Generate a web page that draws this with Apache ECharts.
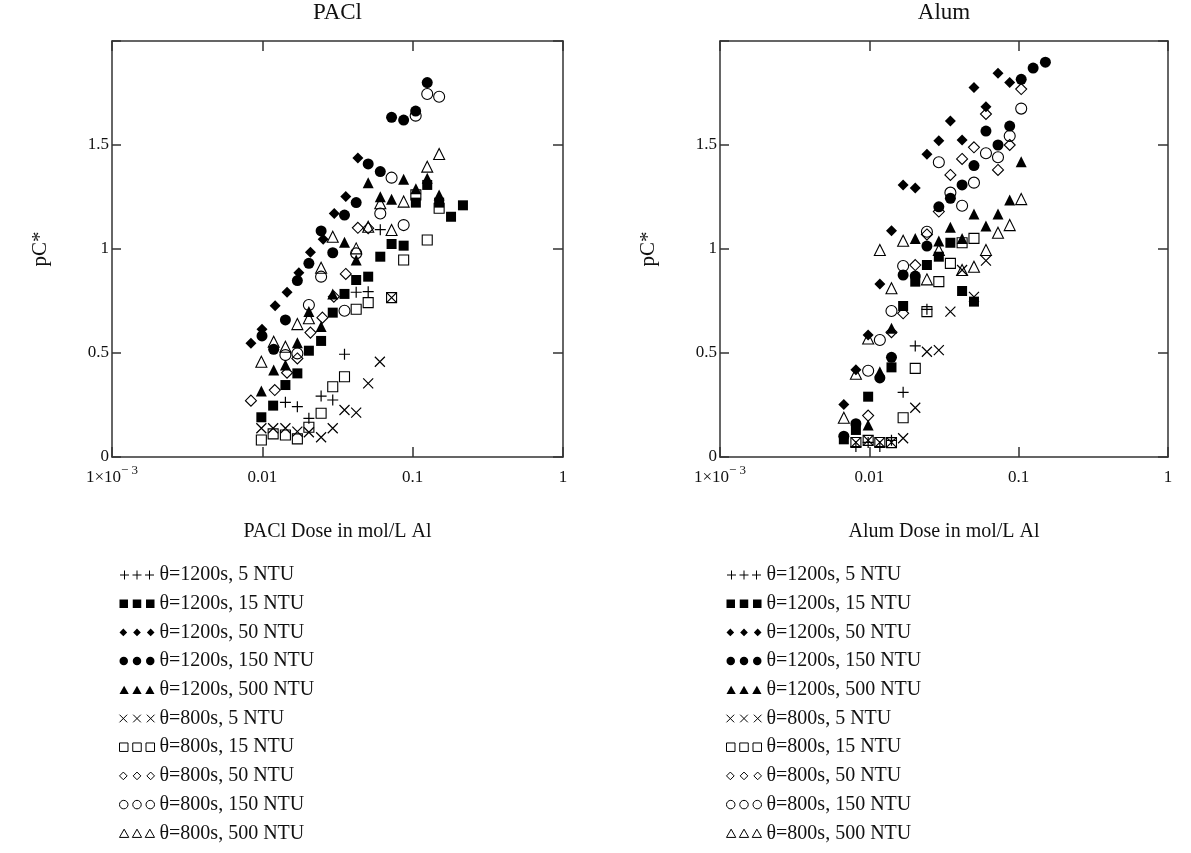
<!DOCTYPE html>
<html><head><meta charset="utf-8">
<script src="https://cdn.jsdelivr.net/npm/echarts@6/dist/echarts.min.js"></script>
<style>html,body{margin:0;padding:0;background:#fff}#c{width:1191px;height:853px}</style>
</head><body><div id="c"></div>
<script>
// ---------- data ----------
const panelTitles = ['PACl', 'Alum'];
const xAxisNames = ['PACl Dose in mol/L Al', 'Alum Dose in mol/L Al'];
const yAxisName = 'pC*';
const seriesNames = ['θ=1200s, 5 NTU','θ=1200s, 15 NTU','θ=1200s, 50 NTU','θ=1200s, 150 NTU','θ=1200s, 500 NTU',
                     'θ=800s, 5 NTU','θ=800s, 15 NTU','θ=800s, 50 NTU','θ=800s, 150 NTU','θ=800s, 500 NTU'];
const xTickExps = [-3, -2, -1, 0];
const xTickLabels = ['1×10{sup|− 3}', '0.01', '0.1', '1'];
const yTickValues = [0, 0.5, 1, 1.5, 2];
const yTickLabels = ['0', '0.5', '1', '1.5', ''];

// PACl panel
const pacl_1200_5 = [[0.01424,0.263],[0.0171,0.242],[0.0204,0.186],[0.0246,0.293],[0.0294,0.274],[0.0352,0.494],[0.0421,0.792],[0.0506,0.795],[0.0609,1.093]];
const pacl_1200_15 = [[0.00985,0.191],[0.0118,0.247],[0.01424,0.346],[0.0171,0.402],[0.0204,0.511],[0.0246,0.558],[0.0294,0.694],[0.0352,0.784],[0.0421,0.851],[0.0506,0.867],[0.0609,0.963],[0.0724,1.024],[0.0871,1.016],[0.105,1.223],[0.125,1.308],[0.150,1.223],[0.180,1.155],[0.216,1.21]];
const pacl_1200_50 = [[0.0084,0.547],[0.00995,0.614],[0.01216,0.727],[0.0146,0.792],[0.0175,0.886],[0.0209,0.984],[0.0254,1.047],[0.0301,1.171],[0.0359,1.253],[0.0432,1.438]];
const pacl_1200_150 = [[0.00995,0.582],[0.0119,0.518],[0.01424,0.659],[0.0171,0.848],[0.0204,0.931],[0.0246,1.087],[0.0294,0.982],[0.0352,1.163],[0.0421,1.223],[0.0506,1.409],[0.0609,1.372],[0.0724,1.633],[0.0871,1.62],[0.1047,1.663],[0.125,1.80]];
const pacl_1200_500 = [[0.00985,0.317],[0.0119,0.418],[0.01424,0.442],[0.0171,0.549],[0.0204,0.699],[0.0246,0.627],[0.0294,0.784],[0.0352,1.032],[0.0421,0.947],[0.0506,1.319],[0.0609,1.251],[0.0724,1.239],[0.0871,1.335],[0.105,1.29],[0.125,1.34],[0.150,1.26]];
const pacl_800_5 = [[0.00985,0.138],[0.0118,0.138],[0.01424,0.138],[0.0171,0.122],[0.0204,0.119],[0.0246,0.095],[0.0294,0.138],[0.0352,0.226],[0.0421,0.213],[0.0506,0.354],[0.0605,0.458],[0.0724,0.766]];
const pacl_800_15 = [[0.00985,0.082],[0.0118,0.111],[0.01424,0.106],[0.0171,0.087],[0.0204,0.143],[0.0246,0.210],[0.0294,0.338],[0.0352,0.386],[0.0421,0.710],[0.0506,0.742],[0.0724,0.766],[0.0871,0.947],[0.105,1.26],[0.125,1.043],[0.150,1.196]];
const pacl_800_50 = [[0.0084,0.271],[0.0121,0.322],[0.0146,0.405],[0.0171,0.474],[0.0209,0.598],[0.0251,0.670],[0.0299,0.771],[0.0359,0.880],[0.0432,1.102],[0.0506,1.10]];
const pacl_800_150 = [[0.01424,0.49],[0.0171,0.498],[0.0204,0.731],[0.0246,0.867],[0.0352,0.703],[0.0421,0.979],[0.0609,1.171],[0.0724,1.343],[0.0871,1.115],[0.1047,1.641],[0.125,1.745],[0.150,1.732]];
const pacl_800_500 = [[0.00985,0.458],[0.0119,0.554],[0.01424,0.53],[0.0171,0.639],[0.0204,0.667],[0.0246,0.910],[0.0294,1.059],[0.0421,1.003],[0.0506,1.107],[0.0609,1.22],[0.0724,1.091],[0.0871,1.228],[0.125,1.396],[0.150,1.457]];

// Alum panel
const alum_1200_5 = [[0.00813,0.05],[0.00982,0.07],[0.01176,0.05],[0.01407,0.08],[0.01684,0.311],[0.0203,0.534],[0.0243,0.71]];
const alum_1200_15 = [[0.00675,0.085],[0.00813,0.13],[0.00982,0.29],[0.01407,0.431],[0.01684,0.726],[0.0203,0.843],[0.0243,0.923],[0.0292,0.963],[0.0349,1.03],[0.0418,0.798],[0.0502,0.747]];
const alum_1200_50 = [[0.00675,0.253],[0.00813,0.42],[0.00982,0.587],[0.01176,0.832],[0.01407,1.088],[0.01684,1.308],[0.0203,1.293],[0.0243,1.455],[0.0292,1.521],[0.0349,1.615],[0.0418,1.524],[0.0502,1.777],[0.0604,1.684],[0.0727,1.845],[0.0871,1.801]];
const alum_1200_150 = [[0.00675,0.10],[0.00813,0.16],[0.01176,0.38],[0.01407,0.479],[0.01684,0.875],[0.0203,0.87],[0.0243,1.014],[0.0292,1.203],[0.0349,1.244],[0.0418,1.308],[0.0502,1.401],[0.0604,1.567],[0.0727,1.5],[0.0871,1.591],[0.104,1.816],[0.125,1.870],[0.151,1.898]];
const alum_1200_500 = [[0.00982,0.154],[0.01176,0.41],[0.01407,0.619],[0.0203,1.051],[0.0292,1.038],[0.0349,1.104],[0.0418,1.051],[0.0502,1.168],[0.0604,1.111],[0.0727,1.168],[0.0871,1.236],[0.104,1.42]];
const alum_800_5 = [[0.00813,0.07],[0.00982,0.08],[0.01176,0.07],[0.01407,0.07],[0.01684,0.09],[0.0203,0.237],[0.0243,0.506],[0.0292,0.514],[0.0349,0.699],[0.0418,0.899],[0.0502,0.77],[0.0604,0.944]];
const alum_800_15 = [[0.00813,0.07],[0.00982,0.08],[0.01176,0.07],[0.01407,0.069],[0.01684,0.189],[0.0203,0.426],[0.0243,0.699],[0.0292,0.843],[0.0349,0.931],[0.0418,1.03],[0.0502,1.051]];
const alum_800_50 = [[0.00982,0.199],[0.01407,0.60],[0.01684,0.691],[0.0203,0.923],[0.0243,1.07],[0.0292,1.18],[0.0349,1.356],[0.0418,1.433],[0.0502,1.489],[0.0604,1.649],[0.0727,1.38],[0.0871,1.5],[0.104,1.769]];
const alum_800_150 = [[0.00982,0.415],[0.01176,0.5625],[0.01407,0.702],[0.01684,0.918],[0.0243,1.083],[0.0292,1.417],[0.0349,1.271],[0.0418,1.208],[0.0502,1.319],[0.0604,1.46],[0.0727,1.441],[0.0871,1.543],[0.104,1.675]];
const alum_800_500 = [[0.00675,0.189],[0.00813,0.40],[0.00982,0.57],[0.01176,0.995],[0.01407,0.811],[0.01684,1.04],[0.0243,0.854],[0.0292,0.995],[0.0418,0.899],[0.0502,0.915],[0.0604,0.995],[0.0727,1.078],[0.0871,1.115],[0.104,1.240]];

const paclData = [pacl_1200_5, pacl_1200_15, pacl_1200_50, pacl_1200_150, pacl_1200_500,
                  pacl_800_5, pacl_800_15, pacl_800_50, pacl_800_150, pacl_800_500];
const alumData = [alum_1200_5, alum_1200_15, alum_1200_50, alum_1200_150, alum_1200_500,
                  alum_800_5, alum_800_15, alum_800_50, alum_800_150, alum_800_500];

// ---------- styles ----------
const FONT = 'Liberation Serif';
const INK = '#111';
const AX = '#333';
const T = 'rgba(0,0,0,0)';
const IC_PLUS = 'path://M4.5,0V9M0,4.5H9M17,0V9M12.5,4.5H21.5M29.5,0V9M25,4.5H34';
const IC_SQ = 'path://M0.5,0.5h8v8h-8zM13,0.5h8v8h-8zM25.5,0.5h8v8h-8z';
const IC_DIA = 'path://M4.5,1L8,4.5L4.5,8L1,4.5ZM17,1L20.5,4.5L17,8L13.5,4.5ZM29.5,1L33,4.5L29.5,8L26,4.5Z';
const IC_CIR = 'path://M0.5,4.5A4,4,0,1,0,8.5,4.5A4,4,0,1,0,0.5,4.5ZM13,4.5A4,4,0,1,0,21,4.5A4,4,0,1,0,13,4.5ZM25.5,4.5A4,4,0,1,0,33.5,4.5A4,4,0,1,0,25.5,4.5Z';
const IC_TRI = 'path://M4.5,0.5L9,8.5L0,8.5ZM17,0.5L21.5,8.5L12.5,8.5ZM29.5,0.5L34,8.5L25,8.5Z';
const IC_X = 'path://M1,1L8,8M8,1L1,8M13.5,1L20.5,8M20.5,1L13.5,8M26,1L33,8M33,1L26,8';
const markerStyles = [
  {symbol:'path://M5,0V10M0,5H10', size:11, fill:T, stroke:'#000', bw:1.2, icon:IC_PLUS},
  {symbol:'rect', size:10, fill:'#000', stroke:'#000', bw:0, icon:IC_SQ},
  {symbol:'diamond', size:11, fill:'#000', stroke:'#000', bw:0, icon:IC_DIA},
  {symbol:'circle', size:11, fill:'#000', stroke:'#000', bw:0, icon:IC_CIR},
  {symbol:'triangle', size:11, fill:'#000', stroke:'#000', bw:0, icon:IC_TRI},
  {symbol:'path://M0,0L10,10M10,0L0,10', size:10, fill:T, stroke:'#000', bw:1.2, icon:IC_X},
  {symbol:'rect', size:10, fill:T, stroke:'#000', bw:1.1, icon:IC_SQ},
  {symbol:'diamond', size:11, fill:T, stroke:'#000', bw:1.1, icon:IC_DIA},
  {symbol:'circle', size:11, fill:T, stroke:'#000', bw:1.1, icon:IC_CIR},
  {symbol:'triangle', size:11, fill:T, stroke:'#000', bw:1.1, icon:IC_TRI}
];

const grids = [
  {left:112, top:41, width:451, height:416},
  {left:720, top:41, width:448, height:416}
];

function xLabel(v){
  const e = Math.round(Math.log10(v));
  const i = xTickExps.indexOf(e);
  return i >= 0 ? xTickLabels[i] : '';
}
function yLabel(v){
  const i = yTickValues.findIndex(t => Math.abs(t - v) < 1e-9);
  return i >= 0 ? yTickLabels[i] : '';
}

const xAxes = [], yAxes = [], series = [];
[0,1].forEach(p => {
  xAxes.push({
    type:'log', logBase:10, min:0.001, max:1, gridIndex:p, position:'bottom',
    name:xAxisNames[p], nameLocation:'middle', nameGap:65,
    nameTextStyle:{fontSize:20, fontFamily:FONT, color:INK},
    axisLine:{show:true, onZero:false, lineStyle:{color:AX, width:1.5}},
    axisTick:{show:true, inside:true, length:10, lineStyle:{color:AX, width:1.5}},
    minorTick:{show:false}, splitLine:{show:false},
    axisLabel:{show:true, margin:7, fontSize:17, fontFamily:FONT, color:INK, lineHeight:27,
      formatter:xLabel,
      rich:{sup:{fontSize:13, fontFamily:FONT, color:INK, lineHeight:13, padding:[0,0,14,0]}}}
  });
  xAxes.push({
    type:'log', logBase:10, min:0.001, max:1, gridIndex:p, position:'top',
    name:panelTitles[p], nameLocation:'middle', nameGap:17,
    nameTextStyle:{fontSize:23, fontFamily:FONT, color:INK},
    axisLine:{show:true, onZero:false, lineStyle:{color:AX, width:1.5}},
    axisTick:{show:true, inside:true, length:10, lineStyle:{color:AX, width:1.5}},
    minorTick:{show:false}, splitLine:{show:false}, axisLabel:{show:false}
  });
  yAxes.push({
    type:'value', min:0, max:2, interval:0.5, gridIndex:p, position:'left',
    name:yAxisName, nameLocation:'middle', nameRotate:90, nameGap:61,
    nameTextStyle:{fontSize:21, fontFamily:FONT, color:INK},
    axisLine:{show:true, onZero:false, lineStyle:{color:AX, width:1.5}},
    axisTick:{show:true, inside:true, length:9, lineStyle:{color:AX, width:1.5}},
    splitLine:{show:false},
    axisLabel:{show:true, margin:3, fontSize:17, fontFamily:FONT, color:INK, formatter:yLabel}
  });
  yAxes.push({
    type:'value', min:0, max:2, interval:0.5, gridIndex:p, position:'right',
    axisLine:{show:true, onZero:false, lineStyle:{color:AX, width:1.5}},
    axisTick:{show:true, inside:true, length:10, lineStyle:{color:AX, width:1.5}},
    splitLine:{show:false}, axisLabel:{show:false}
  });
  const dataSet = p === 0 ? paclData : alumData;
  seriesNames.forEach((nm, i) => {
    const s = markerStyles[i];
    series.push({
      type:'scatter', name:nm, xAxisIndex:2*p, yAxisIndex:2*p,
      data:dataSet[i], symbol:s.symbol, symbolSize:s.size,
      itemStyle:{color:s.fill, borderColor:s.stroke, borderWidth:s.bw, opacity:1},
      emphasis:{disabled:true}, z:2
    });
  });
});

const legendData = seriesNames.map((nm, i) => {
  const s = markerStyles[i];
  return {name:nm, icon:s.icon,
    itemStyle:{color:s.fill, borderColor:s.stroke, borderWidth:(s.bw > 0 ? 1 : 0)}};
});
const legendBase = {
  orient:'vertical', top:560, itemWidth:35, itemHeight:9, itemGap:8.7,
  selectedMode:false, data:legendData, symbolKeepAspect:true,
  textStyle:{fontSize:20, fontFamily:FONT, color:INK, lineHeight:20}
};

const chart = echarts.init(document.getElementById('c'), null, {renderer:'canvas'});
chart.setOption({
  animation:false,
  backgroundColor:'#fff',
  grid:grids.map(g => Object.assign({outerBoundsMode:'none', containLabel:false}, g)),
  xAxis:xAxes,
  yAxis:yAxes,
  legend:[Object.assign({left:114}, legendBase), Object.assign({left:721}, legendBase)],
  series:series
});
</script></body></html>
